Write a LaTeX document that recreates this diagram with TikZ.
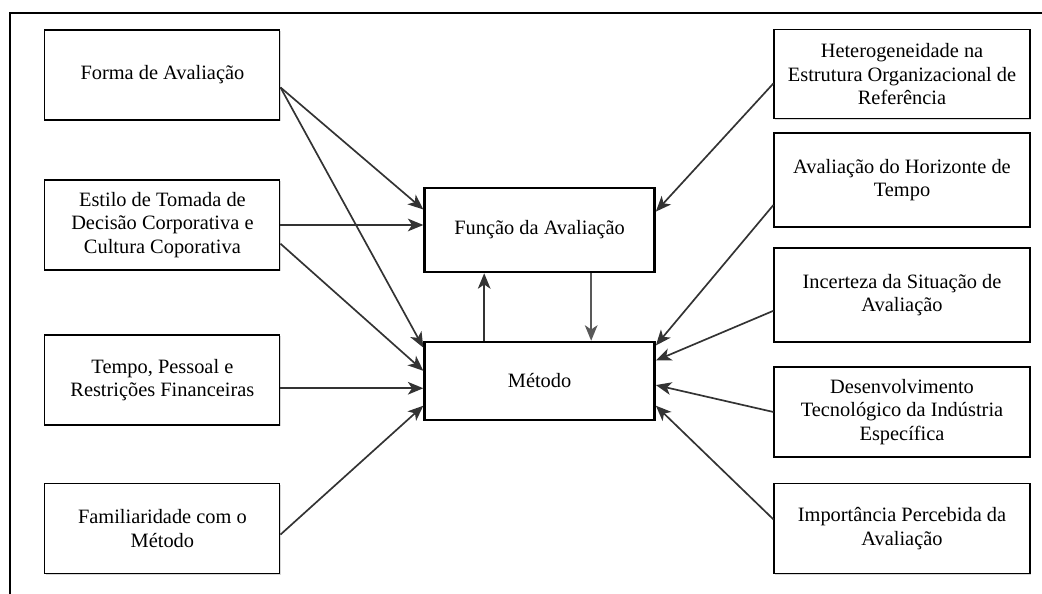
\documentclass[tikz,border=0pt]{standalone}
\usepackage{fontspec}
\setmainfont{Liberation Serif}
\usetikzlibrary{arrows.meta,shadows}

\tikzset{
    factor/.style={draw, fill=white, line width=0.8pt, align=center, font=\fontsize{14.5}{16.8}\selectfont,
        minimum width=6.4cm, minimum height=2.25cm, inner sep=2pt,
        drop shadow={shadow xshift=0.8pt, shadow yshift=-0.8pt, fill=black!30}},
    core/.style={draw, line width=1.8pt, align=center, font=\fontsize{14.5}{16.8}\selectfont,
        minimum width=5.75cm, fill=white},
    link/.style={draw=black!80, line width=1.2pt, -{Stealth[length=11pt,width=9pt,inset=3pt]}}
}

\begin{document}
\begin{tikzpicture}
    \useasboundingbox (0, 0) rectangle (26.05, -14.85);
    % moldura
    \draw [line width=1.4pt] (26.05, -0.325) -- (0.25, -0.325) -- (0.25, -14.85);

    % centro
    \path (13.49,  -5.75) node [core, minimum height=2.1cm]  (funcao) {Função da Avaliação};
    \path (13.49, -9.525) node [core, minimum height=1.95cm] (metodo) {Método};

    % fatores da esquerda
    \path ( 4.06,  -1.875) node [factor, minimum width=5.875cm] (forma) {Forma de Avaliação};
    \path ( 4.06,  -5.625) node [factor, minimum width=5.875cm] (estilo) {Estilo de Tomada de\\Decisão Corporativa e\\Cultura Coporativa};
    \path ( 4.06,  -9.5)   node [factor, minimum width=5.875cm] (tempo) {Tempo, Pessoal e\\Restrições Financeiras};
    \path ( 4.06, -13.21)  node [factor, minimum width=5.875cm] (familia) {Familiaridade com o\\Método};

    % fatores da direita
    \path (22.55,  -1.86)  node [factor, minimum height=2.225cm] (hetero) {Heterogeneidade na\\Estrutura Organizacional de\\Referência};
    \path (22.55,  -4.5)   node [factor, minimum height=2.35cm] (horizonte) {Avaliação do Horizonte de\\Tempo};
    \path (22.55,  -7.375) node [factor, minimum height=2.35cm] (incerteza) {Incerteza da Situação de\\Avaliação};
    \path (22.55, -10.3)   node [factor] (tecno) {Desenvolvimento\\Tecnológico da Indústria\\Específica};
    \path (22.55, -13.21)  node [factor] (importancia) {Importância Percebida da\\Avaliação};

    % setas da esquerda
    \draw [link] (forma.-6) -- (funcao.170);
    \draw [link] (forma.-6) -- (metodo.164);
    \draw [link] (estilo.east) -- (estilo.east -| funcao.west);
    \draw [link] (estilo.-9) -- (metodo.175);
    \draw [link] (tempo.-4) -- (tempo.-4 -| metodo.west);
    \draw [link] (familia.-3) -- (metodo.192);

    % entre os blocos centrais
    \draw [link] (metodo.144) -- (metodo.144 |- funcao.south);
    \draw [link, draw=black!65] (funcao.-40) -- (funcao.-40 |- metodo.north);

    % setas da direita
    \draw [link] (hetero.184) -- (funcao.9);
    \draw [link] (horizonte.191) -- (metodo.17);
    \draw [link] (incerteza.187) -- (metodo.10);
    \draw [link] (tecno.west) -- (metodo.-2);
    \draw [link] (importancia.176) -- (metodo.-12);
\end{tikzpicture}
\end{document}
